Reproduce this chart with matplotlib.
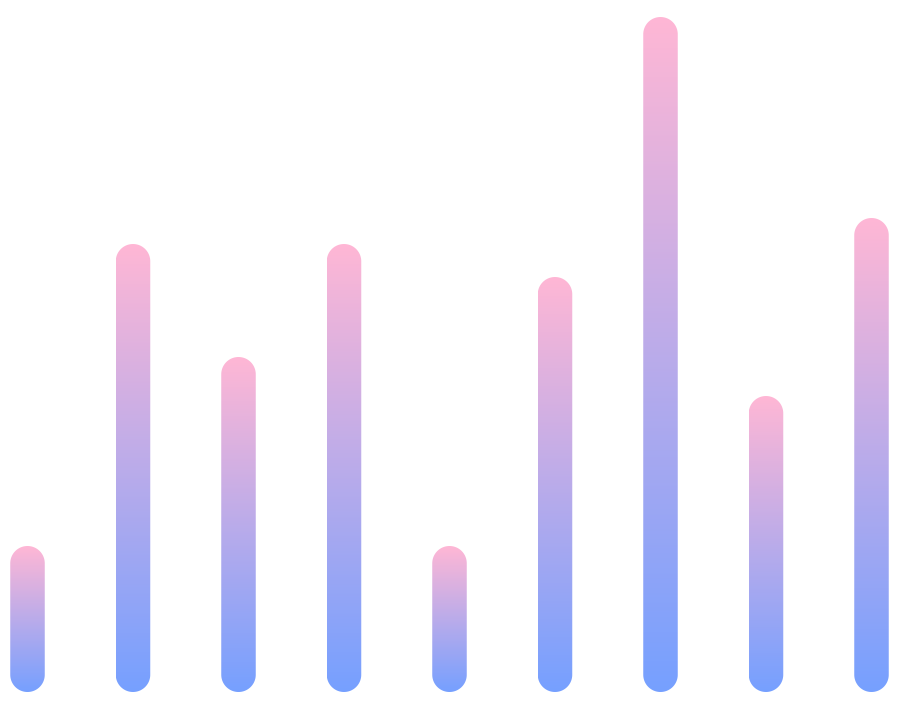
import numpy as np
import matplotlib
matplotlib.use("Agg")
import matplotlib.pyplot as plt
from matplotlib.patches import PathPatch
from matplotlib.path import Path
from matplotlib.colors import LinearSegmentedColormap

categories = ["A", "B", "C", "D", "E", "F", "G", "H", "I"]
values = [146, 448, 335, 448, 146, 415, 675, 296, 474]

color_bottom = "#76A0FF"
color_top = "#FFB7D5"

W, H = 900, 710
fig = plt.figure(figsize=(W / 100, H / 100), dpi=100)
ax = fig.add_axes([0, 0, 1, 1])
ax.set_axis_off()

spacing_px = 105.5
left_px = 27.5
bottom_px = 18
bar_w_px = 34.5

n = len(values)
xlim = (-left_px / spacing_px, (n - 1) + (W - left_px - spacing_px * (n - 1)) / spacing_px)
ylim = (-bottom_px, H - bottom_px)
ax.set_xlim(*xlim)
ax.set_ylim(*ylim)

cmap = LinearSegmentedColormap.from_list("g", [color_bottom, color_top])
grad = np.linspace(0, 1, 256).reshape(-1, 1)

bw = bar_w_px / spacing_px   # bar width in x data units
rx = bw / 2                  # cap radius in x data units
ry = bar_w_px / 2            # cap radius in y data units (1 unit = 1 px)

t_top = np.linspace(0, np.pi, 60)
t_bot = np.linspace(np.pi, 2 * np.pi, 60)

for i, v in enumerate(values):
    top = np.column_stack([i + rx * np.cos(t_top), (v - ry) + ry * np.sin(t_top)])
    bot = np.column_stack([i + rx * np.cos(t_bot), ry + ry * np.sin(t_bot)])
    verts = np.vstack([top, bot, top[:1]])
    codes = [Path.MOVETO] + [Path.LINETO] * (len(verts) - 2) + [Path.CLOSEPOLY]
    patch = PathPatch(Path(verts, codes), facecolor="none", edgecolor="none")
    ax.add_patch(patch)
    im = ax.imshow(grad, cmap=cmap, origin="lower", aspect="auto",
                   extent=[i - bw / 2, i + bw / 2, 0, v], interpolation="bilinear")
    im.set_clip_path(patch)

ax.set_xlim(*xlim)
ax.set_ylim(*ylim)
fig.savefig("out.png", dpi=100, facecolor="white")
